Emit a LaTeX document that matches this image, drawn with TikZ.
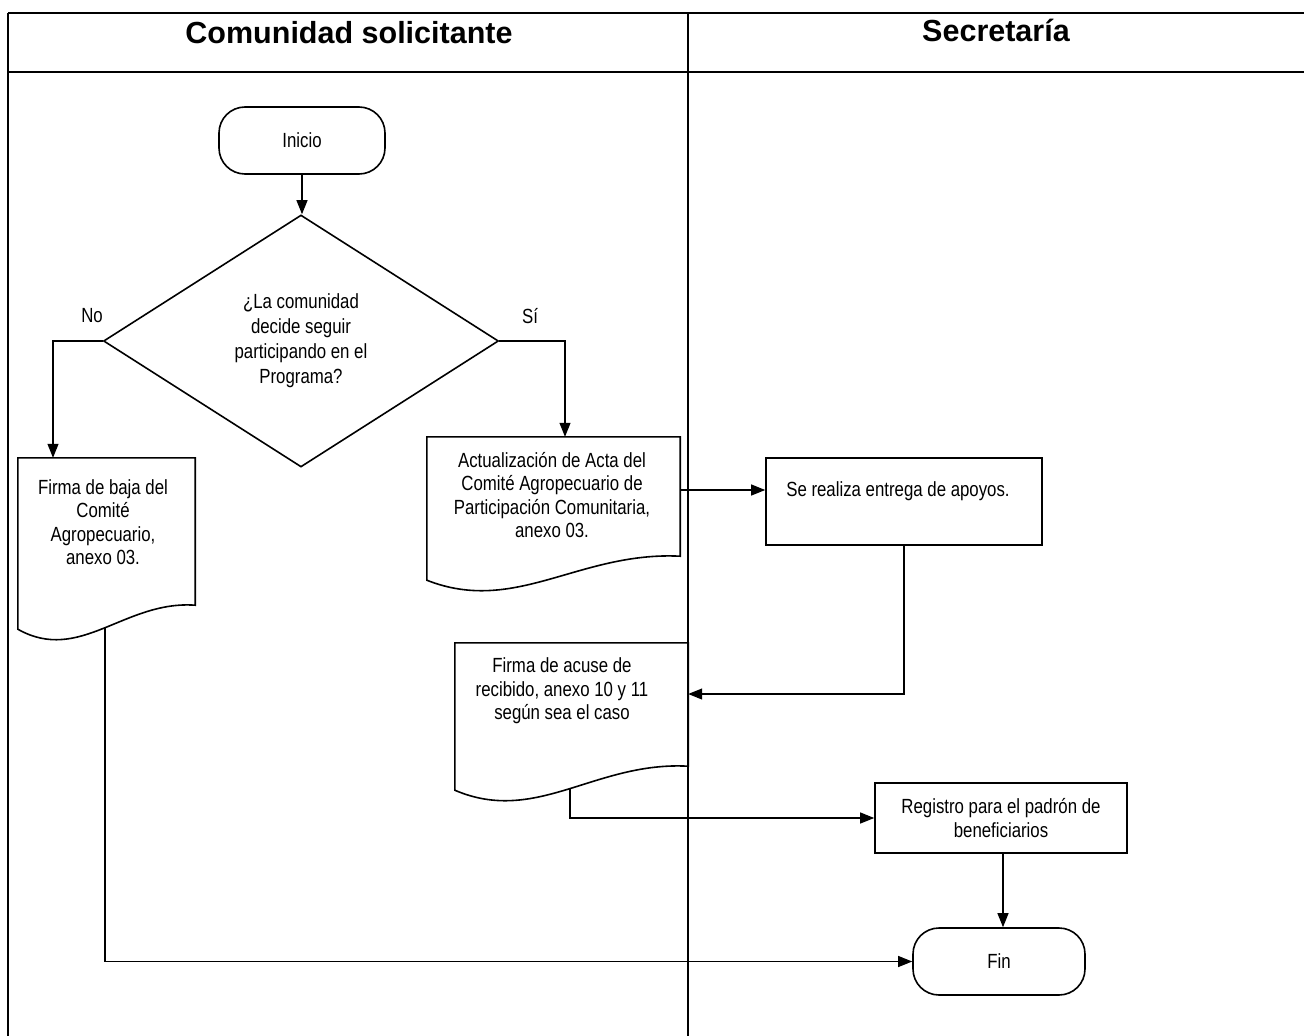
\documentclass[tikz,border=0pt]{standalone}
\usepackage{fontspec}
\setmainfont{Liberation Sans}
\newfontfamily\narrowfont{Liberation Sans}[FakeStretch=0.82]
\usetikzlibrary{arrows.meta,shapes.geometric,calc}
\tikzset{
  lane/.style={line width=1.1pt},
  shp/.style={draw, line width=1.6pt},
  term/.style={shp, rectangle, rounded corners=26pt, minimum width=166pt, minimum height=67pt, inner sep=0pt},
  proc/.style={shp, rectangle, inner sep=0pt},
  docbox/.style={rectangle, inner sep=0pt},
  txt/.style={align=center, font=\narrowfont\fontsize{20.5}{23.5}\selectfont},
  dtxt/.style={align=center, font=\narrowfont\fontsize{20.5}{25}\selectfont},
  hdr/.style={font=\fontsize{30.5}{36}\selectfont\bfseries},
  arr/.style={line width=1.1pt, -{Triangle[length=14pt,width=11pt]}},
}
\newcommand\docshape[1]{%
  \draw[line width=1.6pt] let \p1=(#1.south west), \p2=(#1.north east) in
    (\x1,\y2) -- (\x2,\y2) -- (\x2,\y1)
    .. controls ({\x1+0.6*(\x2-\x1)},{\y1+5pt}) and ({\x1+0.35*(\x2-\x1)},{\y1-59pt}) ..
    (\x1,{\y1-24pt}) -- cycle;}
\begin{document}
\begin{tikzpicture}[x=1pt,y=-1pt]
\useasboundingbox (0,0) rectangle (1304,1036);
% swimlanes
\draw[lane] (8,13) -- (1304,13);
\draw[lane] (8,13) -- (8,1036);
\draw[lane] (8,72) -- (1304,72);
\draw[lane] (688,13) -- (688,1036);
\node[hdr] (h1) at (349,33) {Comunidad solicitante};
\node[hdr] (h2) at (996,30) {Secretaría};
% nodes
\node[term, txt] (ini) at (302,140.5) {Inicio};
\node[shp, diamond, dtxt, minimum width=395pt, minimum height=252pt, inner sep=0pt] (dia) at (301,341)
  {¿La comunidad\\decide seguir\\participando en el\\Programa?};
\node[txt] (no) at (92,316) {No};
\node[txt] (si) at (530,316) {Sí};
\node[docbox, minimum width=177pt, minimum height=147pt] (d1) at (106.5,531.5) {};
\node[txt] (t1) at (103,522) {Firma de baja del\\Comité\\Agropecuario,\\anexo 03.};
\node[docbox, minimum width=253pt, minimum height=119pt] (d2) at (553.5,496.5) {};
\node[txt] (t2) at (552,495) {Actualización de Acta del\\Comité Agropecuario de\\Participación Comunitaria,\\anexo 03.};
\node[proc, minimum width=276pt, minimum height=87pt] (se) at (904,501.5) {};
\node[txt] (t4) at (898,491) {Se realiza entrega de apoyos.};
\node[docbox, minimum width=233pt, minimum height=123pt] (d3) at (571.5,704.5) {};
\node[txt] (t3) at (562,691) {Firma de acuse de\\recibido, anexo 10 y 11\\según sea el caso};
\node[proc, txt, minimum width=252pt, minimum height=70pt] (reg) at (1001,818) {Registro para el padrón de\\beneficiarios};
\node[term, txt, minimum width=172pt] (fin) at (999,961.5) {Fin};
\docshape{d1}
\docshape{d2}
\docshape{d3}
% helper coordinates
\coordinate (noX) at (53,0);
\coordinate (siX) at (565,0);
\coordinate (yA) at (0,490);
\coordinate (yB) at (0,694);
\coordinate (xF) at (1003,0);
\coordinate (d1b) at (105,627);
\coordinate (d3b) at (570,788);
% connectors
\draw[arr] (ini.south) -- (ini.south |- dia.north);
\draw[arr] (dia.west) -| (noX |- d1.north);
\draw[arr] (dia.east) -| (siX |- d2.north);
\draw[arr] (d2.east |- yA) -- (se.west |- yA);
\draw[arr] (se.south) |- (d3.east |- yB);
\draw[arr] (d3b) |- (reg.west);
\draw[arr] (reg.south -| xF) -- (fin.north -| xF);
\draw[arr] (d1b) |- (fin.west);
\end{tikzpicture}
\end{document}
